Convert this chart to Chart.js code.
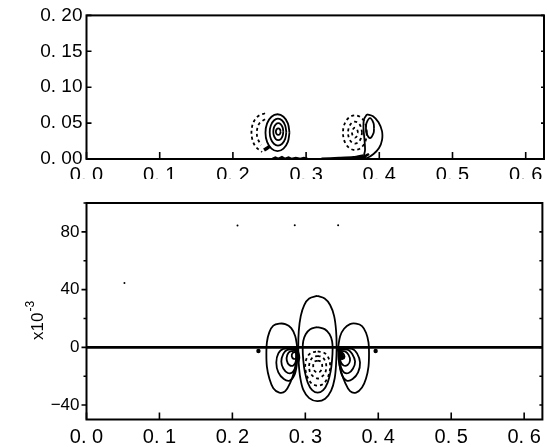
<!DOCTYPE html>
<html>
<head>
<meta charset="utf-8">
<script src="https://cdn.jsdelivr.net/npm/chart.js@4.4.1/dist/chart.umd.min.js"></script>
<style>
  html, body { margin: 0; padding: 0; background: #fff; }
  #wrap { position: relative; width: 547px; height: 447px; overflow: hidden; }
  #topChart { position: absolute; left: 0; top: 0; }
  #bottomChart { position: absolute; left: 0; top: 179px; }
</style>
</head>
<body>
<div id="wrap">
  <canvas id="topChart" width="547" height="179"></canvas>
  <canvas id="bottomChart" width="547" height="268"></canvas>
</div>
<script>
// две панели: вихри у стенки (верх) и поле под ними (низ)

const xTicks = [0, 0.1, 0.2, 0.3, 0.4, 0.5, 0.6];
const xTickLabels = ['0. 0', '0. 1', '0. 2', '0. 3', '0. 4', '0. 5', '0. 6'];
const topYTicks = [0, 0.05, 0.10, 0.15, 0.20];
const topYLabels = ['0. 00', '0. 05', '0. 10', '0. 15', '0. 20'];
const bottomYTicks = [-40, 0, 40, 80];
const bottomYLabels = ['\u221240', '0', '40', '80'];
const bottomYMinor = [-20, 20, 60, 100];

// верхняя панель, левый вихрь (сплошные кольца)
const leftRing1 = [[0.2773,0.0367],[0.2751,0.0496],[0.2691,0.0589],[0.2609,0.0623],[0.2527,0.0589],[0.2467,0.0496],[0.2445,0.0367],[0.2467,0.0238],[0.2527,0.0145],[0.2609,0.0111],[0.2691,0.0145],[0.2751,0.0238],[0.2773,0.0367]];
const leftRing2 = [[0.273,0.0374],[0.2714,0.0467],[0.2673,0.0536],[0.2616,0.0561],[0.256,0.0536],[0.2518,0.0467],[0.2503,0.0374],[0.2518,0.028],[0.256,0.0212],[0.2616,0.0187],[0.2673,0.0212],[0.2714,0.028],[0.273,0.0374]];
const leftRing3 = [[0.2689,0.0381],[0.2679,0.044],[0.2654,0.0483],[0.262,0.0499],[0.2586,0.0483],[0.2561,0.044],[0.2552,0.0381],[0.2561,0.0322],[0.2586,0.0278],[0.262,0.0263],[0.2654,0.0278],[0.2679,0.0322],[0.2689,0.0381]];
const leftRing4 = [[0.2653,0.0381],[0.2643,0.0413],[0.262,0.0427],[0.2597,0.0413],[0.2587,0.0381],[0.2597,0.0349],[0.262,0.0335],[0.2643,0.0349],[0.2653,0.0381]];
// левый вихрь, пунктирные дуги
const leftDash1 = [[0.2439,0.0637],[0.2343,0.0596],[0.2281,0.0512],[0.2254,0.0388],[0.2268,0.0263],[0.2316,0.0166],[0.2398,0.0097]];
const leftDash2 = [[0.2439,0.0554],[0.2363,0.0499],[0.2329,0.0402],[0.2336,0.0291],[0.2384,0.0194]];
const leftBlob = [[0.2425,0.0125],[0.2466,0.0150],[0.2507,0.0180]];
const wallBumps = [[0.254,0.0005],[0.258,0.0025],[0.262,0.0005],[0.267,0.003],[0.271,0.0005],[0.276,0.0025],[0.280,0.0005],[0.286,0.002],[0.292,0.0005],[0.297,0.002],[0.302,0.0005]];

// правый вихрь
const rightOuter = [[0.3832,0.0623],[0.3914,0.0596],[0.3989,0.0512],[0.4037,0.0388],[0.4037,0.0263],[0.3996,0.0152],[0.3921,0.0069],[0.3832,0.0014],[0.3791,0.0028],[0.3805,0.0125],[0.3798,0.0263],[0.3784,0.0429],[0.3791,0.0554],[0.3832,0.0623]];
const rightInner = [[0.3928,0.0429],[0.3921,0.0499],[0.3873,0.0568],[0.3825,0.0499],[0.3818,0.0429],[0.3825,0.036],[0.3873,0.0291],[0.3921,0.036],[0.3928,0.0429]];
const rightDash1 = [[0.3832,0.0367],[0.381,0.0488],[0.375,0.0577],[0.3668,0.0609],[0.3586,0.0577],[0.3525,0.0488],[0.3504,0.0367],[0.3525,0.0246],[0.3586,0.0156],[0.3668,0.0125],[0.375,0.0156],[0.381,0.0246],[0.3832,0.0367]];
const rightDash2 = [[0.3764,0.0367],[0.375,0.0443],[0.3716,0.0499],[0.3668,0.052],[0.362,0.0499],[0.3586,0.0443],[0.3573,0.0367],[0.3586,0.0291],[0.362,0.0235],[0.3668,0.0215],[0.3716,0.0235],[0.375,0.0291],[0.3764,0.0367]];
const rightDash3 = [[0.3709,0.0367],[0.3695,0.0416],[0.3668,0.0436],[0.3641,0.0416],[0.3627,0.0367],[0.3641,0.0319],[0.3668,0.0298],[0.3695,0.0319],[0.3709,0.0367]];
const wallWedge = [[0.321,0.0008],[0.345,0.0018],[0.365,0.003],[0.378,0.0055]];
const rightTail = [[0.377,0.001],[0.381,0.004],[0.386,0.007]];

// нижняя панель (значения x10^-3)
const zeroLine = [[0, 0], [0.625, 0]];
const leftLobe = [[0.2889,0],[0.2862,7.7],[0.2807,13.3],[0.2725,16.1],[0.2643,16.4],[0.2561,15.0],[0.2507,10.5],[0.2473,3.5],[0.2466,-4.2],[0.2473,-13.3],[0.2507,-21.6],[0.2561,-28.3],[0.2643,-31.4],[0.2725,-30.4],[0.2794,-24.4],[0.2848,-16.7],[0.2882,-8.4],[0.2889,0]];
const rightLobe = [[0.345,0],[0.3477,7.7],[0.3531,12.9],[0.3613,16.1],[0.3696,16.4],[0.3777,14.7],[0.3832,10.1],[0.3866,3.5],[0.3873,-4.2],[0.3866,-13.3],[0.3832,-21.6],[0.3777,-27.9],[0.3696,-31.4],[0.3613,-30.4],[0.3545,-24.4],[0.349,-16.7],[0.3456,-8.4],[0.345,0]];
const centralOuter = [[0.3163,35.6],[0.3053,33.8],[0.2985,29.3],[0.2937,21.6],[0.291,11.2],[0.2903,0],[0.291,-11.2],[0.293,-20.9],[0.2971,-29.3],[0.3053,-35.2],[0.3163,-37.3],[0.3272,-35.6],[0.3354,-30.0],[0.3402,-21.6],[0.3422,-11.2],[0.3429,0],[0.3422,11.2],[0.3395,21.6],[0.334,29.3],[0.3265,33.8],[0.3163,35.6]];
const centralInner = [[0.3163,14.0],[0.3067,12.6],[0.3005,9.1],[0.2971,4.2],[0.2964,-1.4],[0.2971,-8.4],[0.2992,-16.7],[0.3033,-24.4],[0.3094,-29.7],[0.3169,-31.4],[0.3245,-29.7],[0.3306,-24.4],[0.3347,-16.7],[0.3367,-8.4],[0.3374,-1.4],[0.3367,4.2],[0.3333,9.1],[0.3265,12.6],[0.3163,14.0]];
const leftNest2 = [[0.2876,-1.0],[0.2698,-1.0],[0.263,-4.2],[0.2602,-10.5],[0.263,-17.4],[0.2705,-22.0],[0.2787,-23.0],[0.2848,-19.5],[0.2882,-12.6],[0.2889,-5.6],[0.2876,-1.0]];
const leftNest3 = [[0.2876,-1.7],[0.2753,-1.7],[0.2698,-4.5],[0.2671,-9.8],[0.2698,-14.7],[0.276,-17.8],[0.2821,-17.4],[0.2862,-14.0],[0.2882,-8.4],[0.2876,-1.7]];
const leftNest4 = [[0.2876,-2.4],[0.2794,-2.8],[0.2753,-5.2],[0.2746,-9.1],[0.278,-12.2],[0.2835,-12.6],[0.2869,-9.8],[0.2876,-2.4]];
const leftNest5 = [[0.2876,-3.1],[0.2828,-3.8],[0.2814,-6.3],[0.2842,-8.0],[0.2876,-7.3],[0.2876,-3.1]];
const rightNest2 = [[0.3463,-1.0],[0.3641,-1.0],[0.3709,-4.2],[0.375,-10.5],[0.3723,-17.4],[0.3648,-22.0],[0.3566,-23.0],[0.3504,-19.5],[0.347,-12.6],[0.3463,-5.6],[0.3463,-1.0]];
const rightNest3 = [[0.3463,-1.7],[0.3586,-1.7],[0.3641,-4.5],[0.3682,-9.8],[0.3654,-14.7],[0.3593,-17.8],[0.3531,-17.4],[0.349,-14.0],[0.347,-8.4],[0.3463,-1.7]];
const rightNest4 = [[0.3463,-2.4],[0.3545,-2.8],[0.3593,-5.2],[0.3613,-9.1],[0.3579,-12.2],[0.3525,-12.6],[0.3484,-9.8],[0.3463,-2.4]];
const rightNest5 = [[0.3463,-3.1],[0.3511,-3.8],[0.3538,-6.3],[0.3511,-8.0],[0.3477,-7.3],[0.3463,-3.1]];
const centerDash1 = [[0.3169,-2.8],[0.3272,-4.2],[0.3326,-8.4],[0.334,-14.0],[0.3313,-20.2],[0.3251,-25.1],[0.3169,-26.5],[0.3087,-25.1],[0.3026,-20.2],[0.2999,-14.0],[0.3012,-8.4],[0.3067,-4.2],[0.3169,-2.8]];
const centerDash2 = [[0.3169,-5.9],[0.3238,-7.0],[0.3279,-10.5],[0.3286,-14.7],[0.3258,-18.8],[0.3169,-21.6],[0.3081,-18.8],[0.3053,-14.7],[0.306,-10.5],[0.3101,-7.0],[0.3169,-5.9]];
const centerDash3 = [[0.3169,-9.1],[0.3217,-10.1],[0.3231,-13.3],[0.321,-16.4],[0.3169,-17.4],[0.3128,-16.4],[0.3108,-13.3],[0.3122,-10.1],[0.3169,-9.1]];
const saddleLeft = [[0.2862,-0.7],[0.2889,-3.5],[0.2903,-7.0],[0.2889,-10.0]];
const saddleRight = [[0.3456,-0.7],[0.3477,-3.5],[0.3504,-6.3],[0.3525,-7.7]];
const wallMarks = [[0.2357,-2.5],[0.3964,-2.5]];
const specks = [[0.207,84.4],[0.2855,84.6],[0.345,84.6],[0.052,44.5]];

function contour(points, opts = {}) {
  return {
    data: points.map(([x, y]) => ({ x, y })),
    showLine: true,
    pointRadius: 0,
    borderColor: '#000',
    backgroundColor: '#000',
    borderWidth: opts.width || 1.8,
    borderDash: opts.dash || [],
    tension: opts.tension ?? 0.35,
    fill: opts.fill || false
  };
}

function dots(points, r) {
  return {
    data: points.map(([x, y]) => ({ x, y })),
    showLine: false,
    pointRadius: r,
    pointBorderWidth: 0,
    backgroundColor: '#000',
    borderColor: '#000'
  };
}

function fixedTicks(values) {
  return scale => { scale.ticks = values.map(v => ({ value: v })); };
}

// рамка, засечки внутрь и подпись оси
const framePlugin = {
  id: 'frame',
  afterDraw(chart, args, o) {
    const { ctx, chartArea: a, scales: { x, y } } = chart;
    ctx.save();
    ctx.strokeStyle = '#000';
    ctx.lineWidth = 2;
    ctx.strokeRect(a.left, a.top, a.right - a.left, a.bottom - a.top);
    ctx.lineWidth = 1.6;
    ctx.beginPath();
    xTicks.forEach(v => {
      const px = x.getPixelForValue(v);
      ctx.moveTo(px, a.bottom);
      ctx.lineTo(px, a.bottom - 7);
    });
    o.yMajor.forEach(v => {
      const py = y.getPixelForValue(v);
      ctx.moveTo(a.left - o.out, py);
      ctx.lineTo(a.left + o.in, py);
      ctx.moveTo(a.right, py);
      ctx.lineTo(a.right - 3, py);
    });
    (o.yMinor || []).forEach(v => {
      const py = y.getPixelForValue(v);
      ctx.moveTo(a.left - 3, py);
      ctx.lineTo(a.left, py);
      ctx.moveTo(a.right, py);
      ctx.lineTo(a.right - 3, py);
    });
    ctx.stroke();

    if (o.title) {
      ctx.fillStyle = '#000';
      ctx.translate(42.5, 161);
      ctx.rotate(-Math.PI / 2);
      ctx.textAlign = 'left';
      ctx.textBaseline = 'alphabetic';
      ctx.font = '17px "Liberation Sans"';
      ctx.fillText('x10', 0, 0);
      const w = ctx.measureText('x10').width;
      ctx.font = '12px "Liberation Sans"';
      ctx.fillText('-3', w + 1, -9);
    }
    ctx.restore();
  }
};

function xScale(height, font, padding) {
  return {
    type: 'linear',
    min: 0,
    max: 0.625,
    grid: { display: false, drawTicks: false },
    border: { display: false },
    afterBuildTicks: fixedTicks(xTicks),
    afterFit: s => { s.height = height; },
    ticks: {
      autoSkip: false,
      maxRotation: 0,
      padding,
      color: '#000',
      font: { family: 'Liberation Sans', size: font },
      callback: (v, i) => xTickLabels[i]
    }
  };
}

function yScale(min, max, values, labels, font, padding) {
  return {
    type: 'linear',
    min,
    max,
    grid: { display: false, drawTicks: false },
    border: { display: false },
    afterBuildTicks: fixedTicks(values),
    afterFit: s => { s.width = 86.5; },
    ticks: {
      autoSkip: false,
      padding,
      color: '#000',
      font: { family: 'Liberation Sans', size: font },
      callback: (v, i) => labels[i]
    }
  };
}

const commonOpts = {
  responsive: false,
  animation: false,
  events: [],
  plugins: { legend: { display: false }, tooltip: { enabled: false } }
};

new Chart(document.getElementById('topChart'), {
  type: 'scatter',
  data: {
    datasets: [
      contour(leftRing1), contour(leftRing2), contour(leftRing3), contour(leftRing4),
      contour(leftDash1, { dash: [3, 3] }), contour(leftDash2, { dash: [3, 3] }),
      contour(leftBlob, { width: 3.5 }), contour(wallBumps, { width: 1.8, tension: 0 }),
      contour(rightOuter), contour(rightInner),
      contour(rightDash1, { dash: [3, 3] }), contour(rightDash2, { dash: [3, 3] }), contour(rightDash3, { dash: [3, 3] }),
      contour(wallWedge, { fill: 'origin', tension: 0.2 }), contour(rightTail, { width: 2.5 })
    ]
  },
  options: {
    ...commonOpts,
    layout: { padding: { left: 0, right: 3, top: 14.5, bottom: 0 } },
    scales: {
      x: xScale(20, 20, 4.5),
      y: yScale(0, 0.2, topYTicks, topYLabels, 19, 4)
    },
    plugins: { ...commonOpts.plugins, frame: { yMajor: topYTicks, in: 5, out: 0 } }
  },
  plugins: [framePlugin]
});

new Chart(document.getElementById('bottomChart'), {
  type: 'scatter',
  data: {
    datasets: [
      contour(zeroLine, { width: 2.6, tension: 0 }),
      contour(leftLobe), contour(rightLobe), contour(centralOuter), contour(centralInner),
      contour(leftNest2), contour(leftNest3), contour(leftNest4), contour(leftNest5),
      contour(rightNest2), contour(rightNest3), contour(rightNest4), contour(rightNest5),
      contour(centerDash1, { dash: [3, 3] }), contour(centerDash2, { dash: [3, 3] }), contour(centerDash3, { dash: [3, 3] }),
      contour(saddleLeft, { width: 4 }), contour(saddleRight, { width: 4 }),
      dots(wallMarks, 2.2), dots(specks, 1)
    ]
  },
  options: {
    ...commonOpts,
    layout: { padding: { left: 0, right: 3, top: 24, bottom: 0 } },
    scales: {
      x: xScale(27.5, 20, 6),
      y: yScale(-50, 100, bottomYTicks, bottomYLabels, 17, 7)
    },
    plugins: { ...commonOpts.plugins, frame: { yMajor: bottomYTicks, yMinor: bottomYMinor, in: 0, out: 5, title: true } }
  },
  plugins: [framePlugin]
});
</script>
</body>
</html>
